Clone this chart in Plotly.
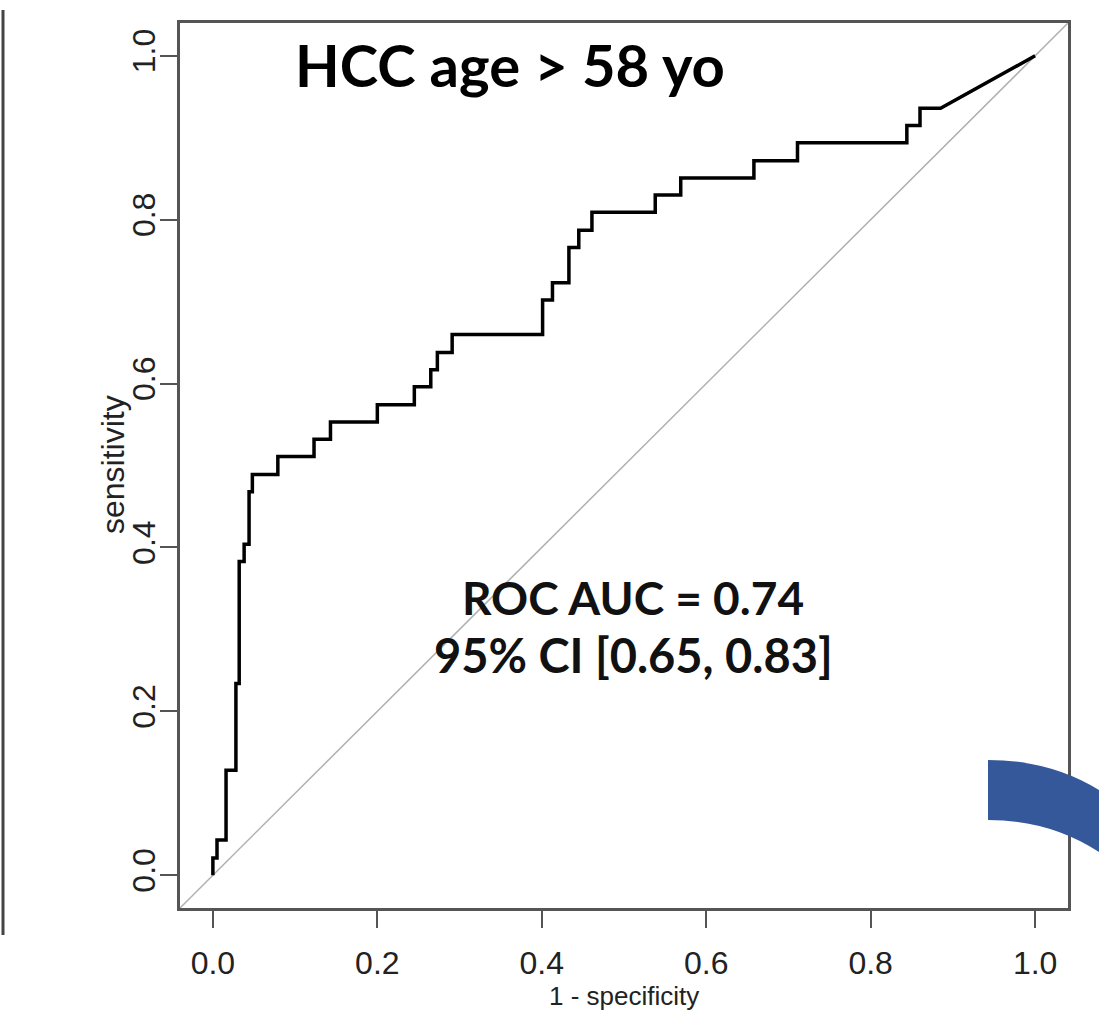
import plotly.graph_objects as go

# ROC curve vertices
fpr = [0, 0, 0.005, 0.005, 0.016, 0.016, 0.028, 0.028, 0.032, 0.032, 0.038, 0.038,
       0.044, 0.044, 0.048, 0.048, 0.079, 0.079, 0.123, 0.123, 0.143, 0.143, 0.200,
       0.200, 0.245, 0.245, 0.265, 0.265, 0.273, 0.273, 0.291, 0.291, 0.401, 0.401,
       0.413, 0.413, 0.433, 0.433, 0.445, 0.445, 0.461, 0.461, 0.538, 0.538, 0.569,
       0.569, 0.658, 0.658, 0.711, 0.711, 0.844, 0.844, 0.860, 0.860, 0.885, 1.0]
tpr = [0, 0.021, 0.021, 0.043, 0.043, 0.128, 0.128, 0.234, 0.234, 0.383, 0.383, 0.404,
       0.404, 0.468, 0.468, 0.489, 0.489, 0.511, 0.511, 0.532, 0.532, 0.553, 0.553,
       0.574, 0.574, 0.596, 0.596, 0.617, 0.617, 0.638, 0.638, 0.660, 0.660, 0.702,
       0.702, 0.723, 0.723, 0.766, 0.766, 0.787, 0.787, 0.809, 0.809, 0.830, 0.830,
       0.851, 0.851, 0.872, 0.872, 0.894, 0.894, 0.915, 0.915, 0.936, 0.936, 1.0]

tick_vals = [0, 0.2, 0.4, 0.6, 0.8, 1.0]
tick_text = ["0.0", "0.2", "0.4", "0.6", "0.8", "1.0"]
axis_range = [-0.04, 1.04]

title_text = "HCC age > 58 yo"
auc_line1 = "ROC AUC = 0.74"
auc_line2 = "95% CI [0.65, 0.83]"
x_title = "1 - specificity"
y_title = "sensitivity"

W, H = 1099, 1013


def px(x):
    return x / W


def py(y):
    return 1 - y / H


SANS = "Liberation Sans, Arial, sans-serif"
BOLD = "Lato, Open Sans, sans-serif"

fig = go.Figure()
fig.add_trace(go.Scatter(x=fpr, y=tpr, mode="lines",
                         line=dict(color="black", width=3.5), showlegend=False,
                         hoverinfo="skip"))

axis_common = dict(range=axis_range, tickvals=tick_vals, ticktext=tick_text,
                   showgrid=False, zeroline=False, showline=True, mirror=True,
                   linecolor="#555", linewidth=2.5, ticks="outside", ticklen=17,
                   tickwidth=2, tickcolor="#555")

fig.update_layout(
    width=W, height=H, margin=dict(l=0, r=0, t=0, b=0),
    paper_bgcolor="white", plot_bgcolor="white",
    xaxis=dict(domain=[px(180), px(1068)], ticklabelstandoff=8,
               tickfont=dict(family=SANS, size=32, color="#222"), **axis_common),
    yaxis=dict(domain=[py(908), py(23)], tickangle=-90, ticklabelstandoff=-8,
               tickfont=dict(family=SANS, size=32, color="#222"), **axis_common),
    shapes=[
        dict(type="line", xref="x", yref="y", x0=axis_range[0], y0=axis_range[0],
             x1=axis_range[1], y1=axis_range[1], line=dict(color="#b0b0b0", width=1.5),
             layer="below"),
        dict(type="line", xref="paper", yref="paper", x0=px(3), x1=px(3),
             y0=py(10), y1=py(935), line=dict(color="#444", width=3)),
        dict(type="path", xref="paper", yref="paper",
             path=(f"M {px(988)} {py(760)} "
                   f"Q {px(1050)} {py(760)} {px(1099)} {py(790)} "
                   f"L {px(1099)} {py(852)} "
                   f"Q {px(1050)} {py(820)} {px(988)} {py(820)} Z"),
             fillcolor="#34589A", line=dict(width=0)),
    ],
    annotations=[
        dict(text=f"<b>{title_text}</b>", xref="paper", yref="paper",
             x=px(510), y=py(28), xanchor="center", showarrow=False,
             font=dict(family=BOLD, size=58, color="black")),
        dict(text=f"<b>{auc_line1}</b>", xref="paper", yref="paper",
             x=px(633), y=py(597), xanchor="center", showarrow=False,
             font=dict(family=BOLD, size=46, color="#111")),
        dict(text=f"<b>{auc_line2}</b>", xref="paper", yref="paper",
             x=px(633), y=py(655), xanchor="center", showarrow=False,
             font=dict(family=BOLD, size=47, color="#111")),
        dict(text=x_title, xref="paper", yref="paper", x=px(624), y=py(1013),
             xanchor="center", yanchor="bottom", showarrow=False,
             font=dict(family=SANS, size=26, color="#222")),
        dict(text=y_title, xref="paper", yref="paper", x=px(113), y=py(465),
             xanchor="center", yanchor="middle", textangle=-90, showarrow=False,
             font=dict(family=SANS, size=32, color="#222")),
    ],
)

fig.write_html("out.html", include_plotlyjs=True,
               config={"displayModeBar": False},
               post_script="document.body.style.margin='0';document.body.style.overflow='hidden';")
